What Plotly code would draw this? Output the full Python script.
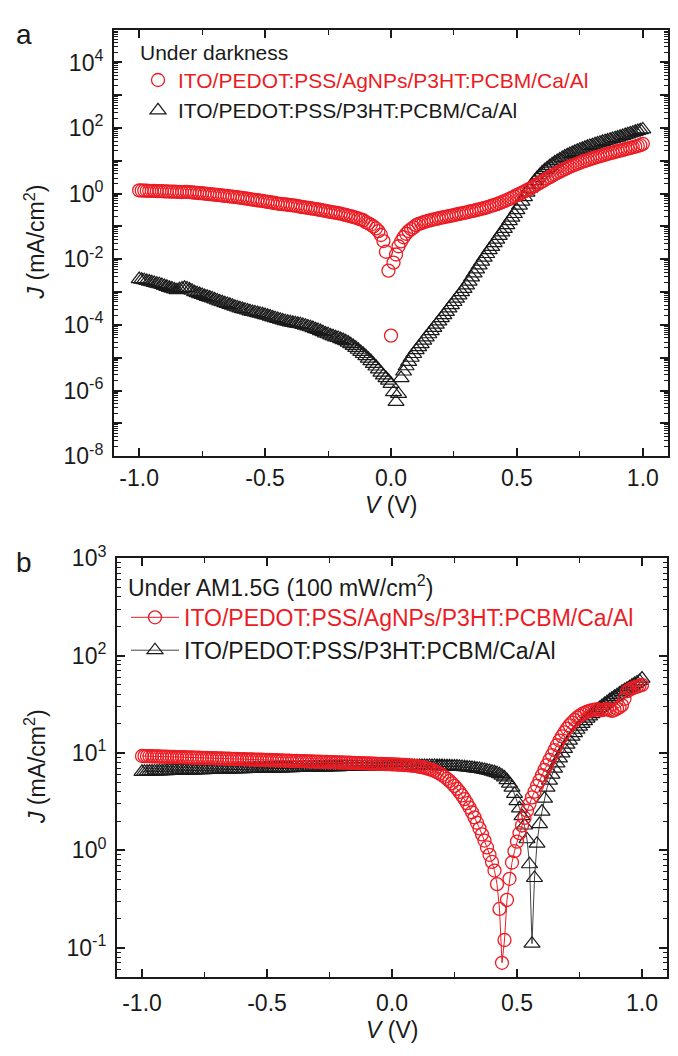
import plotly.graph_objects as go

# ---------------------------------------------------------------
# Voltage sweep shared by every J-V measurement (V)
# ---------------------------------------------------------------
v_sweep = [
    -1.00, -0.99, -0.98, -0.97, -0.96, -0.95, -0.94, -0.93, -0.92, -0.91,
    -0.90, -0.89, -0.88, -0.87, -0.86, -0.85, -0.84, -0.83, -0.82, -0.81,
    -0.80, -0.79, -0.78, -0.77, -0.76, -0.75, -0.74, -0.73, -0.72, -0.71,
    -0.70, -0.69, -0.68, -0.67, -0.66, -0.65, -0.64, -0.63, -0.62, -0.61,
    -0.60, -0.59, -0.58, -0.57, -0.56, -0.55, -0.54, -0.53, -0.52, -0.51,
    -0.50, -0.49, -0.48, -0.47, -0.46, -0.45, -0.44, -0.43, -0.42, -0.41,
    -0.40, -0.39, -0.38, -0.37, -0.36, -0.35, -0.34, -0.33, -0.32, -0.31,
    -0.30, -0.29, -0.28, -0.27, -0.26, -0.25, -0.24, -0.23, -0.22, -0.21,
    -0.20, -0.19, -0.18, -0.17, -0.16, -0.15, -0.14, -0.13, -0.12, -0.11,
    -0.10, -0.09, -0.08, -0.07, -0.06, -0.05, -0.04, -0.03, -0.02, -0.01,
    0.00, 0.01, 0.02, 0.03, 0.04, 0.05, 0.06, 0.07, 0.08, 0.09,
    0.10, 0.11, 0.12, 0.13, 0.14, 0.15, 0.16, 0.17, 0.18, 0.19,
    0.20, 0.21, 0.22, 0.23, 0.24, 0.25, 0.26, 0.27, 0.28, 0.29,
    0.30, 0.31, 0.32, 0.33, 0.34, 0.35, 0.36, 0.37, 0.38, 0.39,
    0.40, 0.41, 0.42, 0.43, 0.44, 0.45, 0.46, 0.47, 0.48, 0.49,
    0.50, 0.51, 0.52, 0.53, 0.54, 0.55, 0.56, 0.57, 0.58, 0.59,
    0.60, 0.61, 0.62, 0.63, 0.64, 0.65, 0.66, 0.67, 0.68, 0.69,
    0.70, 0.71, 0.72, 0.73, 0.74, 0.75, 0.76, 0.77, 0.78, 0.79,
    0.80, 0.81, 0.82, 0.83, 0.84, 0.85, 0.86, 0.87, 0.88, 0.89,
    0.90, 0.91, 0.92, 0.93, 0.94, 0.95, 0.96, 0.97, 0.98, 0.99,
    1.00,
]

# ---------------------------------------------------------------
# (a) under darkness, |J| in mA/cm^2
# ---------------------------------------------------------------
j_dark_ag = [
    1.26, 1.25, 1.24, 1.23, 1.22, 1.22, 1.21, 1.20, 1.19, 1.19,
    1.18, 1.17, 1.16, 1.15, 1.15, 1.14, 1.13, 1.12, 1.14, 1.13,
    1.11, 1.09, 1.08, 1.06, 1.04, 1.03, 1.01, 0.99, 0.97, 0.95,
    0.93, 0.92, 0.90, 0.88, 0.86, 0.85, 0.83, 0.81, 0.79, 0.78,
    0.76, 0.74, 0.72, 0.70, 0.68, 0.66, 0.65, 0.63, 0.61, 0.60,
    0.58, 0.56, 0.55, 0.53, 0.52, 0.50, 0.49, 0.48, 0.47, 0.46,
    0.45, 0.44, 0.43, 0.42, 0.40, 0.39, 0.38, 0.37, 0.36, 0.35,
    0.34, 0.33, 0.32, 0.31, 0.30, 0.29, 0.28, 0.27, 0.265, 0.255,
    0.245, 0.235, 0.225, 0.215, 0.205, 0.195, 0.185, 0.175, 0.165, 0.155,
    0.135, 0.125, 0.113, 0.100, 0.087, 0.072, 0.055, 0.036, 0.017, 0.0045,
    4.7e-5, 0.0079, 0.014, 0.025, 0.035, 0.047, 0.060, 0.072, 0.083, 0.094,
    0.110, 0.119, 0.127, 0.135, 0.143, 0.150, 0.157, 0.164, 0.171, 0.178,
    0.185, 0.192, 0.199, 0.207, 0.215, 0.223, 0.232, 0.241, 0.250, 0.260,
    0.270, 0.281, 0.293, 0.305, 0.318, 0.332, 0.347, 0.363, 0.380, 0.405,
    0.43, 0.45, 0.48, 0.51, 0.55, 0.59, 0.64, 0.69, 0.75, 0.82,
    0.90, 0.98, 1.07, 1.17, 1.28, 1.41, 1.56, 1.73, 1.92, 2.13,
    2.36, 2.6, 2.9, 3.2, 3.55, 3.9, 4.3, 4.7, 5.15, 5.6,
    6.1, 6.6, 7.1, 7.6, 8.2, 8.8, 9.4, 10.0, 10.6, 11.2,
    11.9, 12.6, 13.3, 14.0, 14.7, 15.5, 16.3, 17.1, 17.9, 18.8,
    19.7, 20.6, 21.6, 22.6, 23.7, 24.8, 26.0, 27.2, 28.5, 30.0,
    33.0,
]

j_dark_ref = [
    2.5e-3, 2.4e-3, 2.3e-3, 2.2e-3, 2.1e-3, 2.0e-3, 1.9e-3, 1.8e-3, 1.75e-3, 1.65e-3,
    1.55e-3, 1.45e-3, 1.35e-3, 1.28e-3, 1.2e-3, 1.15e-3, 1.22e-3, 1.3e-3, 1.35e-3, 1.3e-3,
    1.2e-3, 1.1e-3, 1.0e-3, 9.3e-4, 8.7e-4, 8.2e-4, 7.6e-4, 7.2e-4, 6.8e-4, 6.4e-4,
    6.0e-4, 5.6e-4, 5.2e-4, 4.9e-4, 4.6e-4, 4.35e-4, 4.1e-4, 3.85e-4, 3.6e-4, 3.4e-4,
    3.2e-4, 3.05e-4, 2.9e-4, 2.75e-4, 2.6e-4, 2.5e-4, 2.4e-4, 2.3e-4, 2.2e-4, 2.1e-4,
    2.0e-4, 1.9e-4, 1.8e-4, 1.7e-4, 1.6e-4, 1.52e-4, 1.45e-4, 1.37e-4, 1.3e-4, 1.25e-4,
    1.2e-4, 1.16e-4, 1.12e-4, 1.08e-4, 1.05e-4, 1.0e-4, 9.5e-5, 9.0e-5, 8.5e-5, 8.0e-5,
    7.4e-5, 7.0e-5, 6.5e-5, 6.0e-5, 5.5e-5, 5.2e-5, 4.8e-5, 4.5e-5, 4.2e-5, 4.0e-5,
    3.7e-5, 3.45e-5, 3.2e-5, 2.9e-5, 2.6e-5, 2.3e-5, 2.0e-5, 1.75e-5, 1.5e-5, 1.3e-5,
    1.12e-5, 9.4e-6, 7.9e-6, 6.5e-6, 5.4e-6, 4.4e-6, 3.5e-6, 2.9e-6, 2.4e-6, 2.0e-6,
    1.6e-6, 8.9e-7, 4.5e-7, 7.9e-7, 2.4e-6, 3.8e-6, 5.5e-6, 7.5e-6, 1.0e-5, 1.3e-5,
    1.7e-5, 2.1e-5, 2.6e-5, 3.3e-5, 4.2e-5, 5.2e-5, 6.5e-5, 8.1e-5, 1.02e-4, 1.28e-4,
    1.6e-4, 2.0e-4, 2.5e-4, 3.2e-4, 4.0e-4, 5.0e-4, 6.3e-4, 7.9e-4, 1.0e-3, 1.26e-3,
    1.6e-3, 2.1e-3, 2.8e-3, 3.7e-3, 4.9e-3, 6.5e-3, 8.5e-3, 1.12e-2, 1.45e-2, 1.9e-2,
    0.024, 0.031, 0.040, 0.052, 0.066, 0.085, 0.110, 0.145, 0.186, 0.24,
    0.316, 0.43, 0.575, 0.78, 1.07, 1.42, 1.9, 2.4, 3.0, 3.65,
    4.4, 5.2, 6.0, 6.9, 7.9, 8.9, 10.0, 11.1, 12.3, 13.5,
    14.8, 16.1, 17.4, 18.9, 20.4, 21.9, 23.4, 25.1, 26.9, 28.5,
    30.2, 32.0, 33.9, 35.9, 38.0, 39.8, 41.7, 44.2, 46.8, 49.0,
    51.3, 54.3, 57.5, 61.0, 64.6, 68.4, 72.4, 76.8, 81.3, 86.0,
    91.2,
]

# ---------------------------------------------------------------
# (b) under AM1.5G (100 mW/cm^2), |J| in mA/cm^2
# ---------------------------------------------------------------
j_light_ag = [
    9.30, 9.29, 9.27, 9.26, 9.25, 9.22, 9.21, 9.20, 9.17, 9.16,
    9.14, 9.13, 9.11, 9.09, 9.08, 9.06, 9.04, 9.03, 9.01, 8.99,
    8.98, 8.96, 8.94, 8.93, 8.91, 8.89, 8.88, 8.86, 8.84, 8.83,
    8.81, 8.79, 8.78, 8.76, 8.74, 8.73, 8.71, 8.69, 8.68, 8.66,
    8.64, 8.63, 8.61, 8.59, 8.58, 8.56, 8.54, 8.53, 8.51, 8.49,
    8.48, 8.46, 8.44, 8.43, 8.41, 8.39, 8.38, 8.36, 8.34, 8.33,
    8.31, 8.29, 8.28, 8.26, 8.24, 8.23, 8.21, 8.19, 8.18, 8.16,
    8.14, 8.13, 8.11, 8.09, 8.08, 8.06, 8.04, 8.03, 8.01, 7.99,
    7.98, 7.96, 7.94, 7.93, 7.91, 7.89, 7.88, 7.86, 7.84, 7.83,
    7.81, 7.79, 7.78, 7.76, 7.74, 7.73, 7.71, 7.69, 7.68, 7.66,
    7.64, 7.62, 7.60, 7.58, 7.55, 7.52, 7.49, 7.45, 7.40, 7.35,
    7.29, 7.22, 7.14, 7.05, 6.95, 6.83, 6.69, 6.53, 6.35, 6.15,
    5.93, 5.69, 5.43, 5.16, 4.88, 4.59, 4.29, 3.98, 3.67, 3.36,
    3.05, 2.75, 2.46, 2.18, 1.92, 1.68, 1.46, 1.26, 1.07, 0.90,
    0.76, 0.62, 0.45, 0.25, 0.07, 0.12, 0.31, 0.51, 0.75, 0.98,
    1.23, 1.50, 1.80, 2.15, 2.55, 3.0, 3.5, 4.0, 4.6, 5.2,
    5.9, 6.7, 7.5, 8.5, 9.5, 10.7, 12.0, 13.4, 14.8, 16.3,
    17.8, 19.2, 20.5, 21.8, 23.0, 24.0, 25.0, 25.8, 26.5, 27.0,
    27.5, 27.8, 28.0, 27.8, 27.5, 27.9, 28.2, 27.6, 27.0, 27.7,
    28.5, 29.5, 31.0, 36.0, 43.0, 44.5, 46.0, 47.0, 48.0, 49.0,
    50.0,
]

j_light_ref = [
    6.40, 6.41, 6.42, 6.44, 6.45, 6.46, 6.47, 6.48, 6.50, 6.51,
    6.52, 6.53, 6.54, 6.55, 6.56, 6.57, 6.58, 6.59, 6.60, 6.61,
    6.62, 6.63, 6.64, 6.65, 6.66, 6.67, 6.68, 6.69, 6.70, 6.71,
    6.72, 6.73, 6.74, 6.75, 6.76, 6.77, 6.78, 6.79, 6.80, 6.81,
    6.82, 6.83, 6.84, 6.85, 6.86, 6.87, 6.87, 6.88, 6.89, 6.90,
    6.91, 6.92, 6.93, 6.94, 6.95, 6.96, 6.96, 6.97, 6.98, 6.99,
    7.00, 7.01, 7.02, 7.03, 7.04, 7.04, 7.05, 7.06, 7.07, 7.08,
    7.09, 7.10, 7.10, 7.11, 7.12, 7.13, 7.14, 7.14, 7.15, 7.16,
    7.17, 7.18, 7.18, 7.19, 7.20, 7.21, 7.21, 7.22, 7.23, 7.24,
    7.24, 7.25, 7.26, 7.26, 7.27, 7.28, 7.28, 7.29, 7.29, 7.30,
    7.30, 7.31, 7.31, 7.32, 7.32, 7.33, 7.33, 7.33, 7.34, 7.34,
    7.34, 7.35, 7.35, 7.35, 7.35, 7.35, 7.35, 7.35, 7.34, 7.34,
    7.33, 7.32, 7.31, 7.30, 7.28, 7.26, 7.24, 7.21, 7.18, 7.14,
    7.10, 7.06, 7.01, 6.96, 6.90, 6.84, 6.77, 6.70, 6.62, 6.53,
    6.43, 6.32, 6.20, 6.05, 5.85, 5.60, 5.25, 4.85, 4.40, 3.80,
    3.20, 2.70, 2.25, 1.80, 1.30, 0.72, 0.11, 0.52, 1.17, 1.86,
    2.5, 3.4, 4.4, 5.2, 6.0, 6.9, 7.8, 8.8, 9.9, 11.0,
    12.2, 13.4, 14.7, 16.0, 17.3, 18.6, 19.9, 21.2, 22.5, 23.8,
    25.1, 26.4, 27.7, 29.0, 30.4, 31.8, 33.2, 34.7, 36.2, 37.7,
    39.2, 40.8, 42.4, 44.0, 45.7, 47.4, 49.2, 51.0, 52.9, 54.8,
    58.0,
]

for series in (j_dark_ag, j_dark_ref, j_light_ag, j_light_ref):
    assert len(series) == len(v_sweep), len(series)

label_ag = "ITO/PEDOT:PSS/AgNPs/P3HT:PCBM/Ca/Al"
label_ref = "ITO/PEDOT:PSS/P3HT:PCBM/Ca/Al"

x_tick_vals = [-1.0, -0.5, 0.0, 0.5, 1.0]
x_tick_text = ["-1.0", "-0.5", "0.0", "0.5", "1.0"]
x_minor_vals = [-0.75, -0.25, 0.25, 0.75]

dark_exponents = list(range(-8, 6))
dark_labelled = [-8, -6, -4, -2, 0, 2, 4]
light_exponents = [-1, 0, 1, 2, 3]

# ---------------------------------------------------------------
# styling
# ---------------------------------------------------------------
W, H = 678, 1056
FONT = "Liberation Sans, Arial, Helvetica, sans-serif"
RED = "rgb(236,28,36)"
INK = "#1a1a1a"


def fx(p):
    return p / W


def fy(p):
    return 1 - p / H


def log_minor(lo, hi):
    return [m * 10.0 ** k for k in range(lo, hi) for m in range(2, 10)]


axis_common = dict(
    showline=True, linecolor=INK, linewidth=2, mirror="allticks",
    ticks="inside", ticklen=8, tickwidth=1.5, tickcolor=INK,
    showgrid=False, zeroline=False,
    tickfont=dict(family=FONT, size=23, color=INK),
)


def x_axis(domain, anchor, standoff):
    return dict(
        axis_common, domain=domain, anchor=anchor, range=[-1.1, 1.1],
        tickmode="array", tickvals=x_tick_vals, ticktext=x_tick_text,
        ticklabelstandoff=standoff,
        minor=dict(tickmode="array", tickvals=x_minor_vals, ticks="inside",
                   ticklen=5, tickwidth=1.2, tickcolor=INK, showgrid=False),
    )


def y_axis(domain, anchor, exps, labelled, rng, minor_lo, minor_hi):
    return dict(
        axis_common, domain=domain, anchor=anchor, type="log", range=rng,
        tickmode="array", tickvals=[10.0 ** e for e in exps],
        ticktext=["10<sup>%d</sup>" % e if e in labelled else "" for e in exps],
        ticklabelstandoff=4,
        minor=dict(tickmode="array", tickvals=log_minor(minor_lo, minor_hi),
                   ticks="inside", ticklen=4, tickwidth=1, tickcolor=INK,
                   showgrid=False),
    )


circle = dict(symbol="circle-open", size=13, color=RED,
              line=dict(width=1.3, color=RED))
triangle = dict(symbol="triangle-up-open", size=14, color=INK,
                line=dict(width=1.2, color=INK))
red_name = "<span style='color:%s'>%s</span>" % (RED, label_ag)

fig = go.Figure()

# panel (a): markers only, red series drawn on top
fig.add_trace(go.Scatter(
    x=v_sweep, y=j_dark_ref, mode="markers", name=label_ref,
    legend="legend", legendrank=2, xaxis="x", yaxis="y", marker=triangle,
))
fig.add_trace(go.Scatter(
    x=v_sweep, y=j_dark_ag, mode="markers", name=red_name,
    legend="legend", legendrank=1, xaxis="x", yaxis="y", marker=circle,
))

# panel (b): markers joined by thin lines
fig.add_trace(go.Scatter(
    x=v_sweep, y=j_light_ref, mode="lines+markers", name=label_ref,
    legend="legend2", legendrank=2, xaxis="x2", yaxis="y2",
    line=dict(width=1, color="#444444"), marker=triangle,
))
fig.add_trace(go.Scatter(
    x=v_sweep, y=j_light_ag, mode="lines+markers", name=red_name,
    legend="legend2", legendrank=1, xaxis="x2", yaxis="y2",
    line=dict(width=1, color=RED), marker=circle,
))

title_font = dict(family=FONT, size=23, color=INK)
panel_font = dict(family=FONT, size=28, color=INK)


def note(text, x, y, xref="paper", font=title_font, angle=0):
    return dict(text=text, x=x, y=y, xref=xref, yref="paper",
                xanchor="center", yanchor="middle", textangle=angle,
                showarrow=False, font=font)


annotations = [
    note("a", fx(24), fy(18), font=panel_font),
    note("b", fx(24), fy(561), font=panel_font),
    note("<i>V</i> (V)", 0.0, fy(502), xref="x"),
    note("<i>V</i> (V)", 0.0, fy(1043), xref="x2"),
    note("<i>J</i> (mA/cm<sup>2</sup>)", fx(35), fy(232), angle=-90),
    note("<i>J</i> (mA/cm<sup>2</sup>)", fx(35), fy(772), angle=-90),
]

fig.update_layout(
    width=W, height=H,
    margin=dict(l=0, r=0, t=0, b=0, pad=0),
    paper_bgcolor="white", plot_bgcolor="white",
    font=dict(family=FONT, color=INK),
    xaxis=x_axis([fx(114), fx(668)], "y", 0),
    yaxis=y_axis([fy(452), fy(13)], "x", dark_exponents, dark_labelled,
                 [-8, 5], -8, 5),
    xaxis2=x_axis([fx(117), fx(667)], "y2", 4),
    yaxis2=y_axis([fy(988), fy(557)], "x2", light_exponents,
                  light_exponents, [-1.3, 3], -2, 3),
    legend=dict(
        x=fx(138), y=fy(16), xanchor="left", yanchor="top",
        bgcolor="rgba(0,0,0,0)", borderwidth=0, itemwidth=30,
        font=dict(family=FONT, size=21, color=INK),
        title=dict(text="Under darkness",
                   font=dict(family=FONT, size=21, color=INK)),
    ),
    legend2=dict(
        x=fx(126), y=fy(565), xanchor="left", yanchor="top",
        bgcolor="rgba(0,0,0,0)", borderwidth=0, itemwidth=48,
        font=dict(family=FONT, size=23, color=INK),
        title=dict(text="Under AM1.5G (100 mW/cm<sup>2</sup>)",
                   font=dict(family=FONT, size=23, color=INK)),
    ),
    annotations=annotations,
    showlegend=True,
)

fig.write_html("out.html", post_script="document.body.style.margin='0px';")
